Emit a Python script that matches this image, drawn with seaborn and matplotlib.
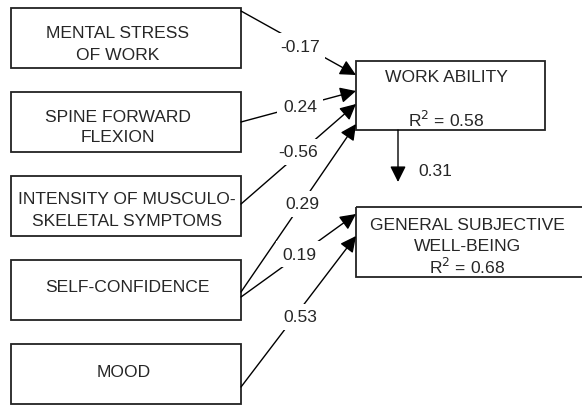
import seaborn as sns
import matplotlib.pyplot as plt
from matplotlib.patches import Rectangle

# predictors (left column) and outcomes (right column)
predictors = ['MENTAL STRESS\nOF WORK', 'SPINE FORWARD\nFLEXION',
              'INTENSITY OF MUSCULO-\nSKELETAL SYMPTOMS', 'SELF-CONFIDENCE', 'MOOD']
outcomes = ['WORK ABILITY', 'GENERAL SUBJECTIVE\nWELL-BEING']
r_squared = [0.58, 0.68]

# paths: (from predictor index, to outcome index, coefficient)
path_from = [0, 1, 2, 3, 3, 4]
path_to = [0, 0, 0, 0, 1, 1]
path_coef = [-0.17, 0.24, -0.56, 0.29, 0.19, 0.53]
wa_to_gswb = 0.31

# layout in pixel coordinates (y down)
left_box_x, left_box_w = 11, 230
left_box_y = [9, 93, 177, 261, 345]
left_box_h = 60
left_text_x = [118, 118, 127, 127, 124]
left_text_y = [[33, 55], [118, 138], [200, 222], [288], [373]]
out_box = [(356, 62, 189, 69), (356, 208, 250, 70)]
path_start_y = [12, 123, 205, 293, 298, 388]
path_end_y = [76, 92, 105, 125, 215, 237]
label_pos = [(300, 47), (300, 108), (298, 153), (302, 205), (299, 255), (300, 318)]

sns.set_theme(style='white')
plt.rcParams['font.family'] = ['Liberation Sans', 'DejaVu Sans']

fig = plt.figure(figsize=(5.82, 4.06), dpi=100)
ax = fig.add_axes([0, 0, 1, 1])
ax.set_xlim(0, 582)
ax.set_ylim(406, 0)
ax.axis('off')

fs = 12.6
for i, name in enumerate(predictors):
    ax.add_patch(Rectangle((left_box_x, left_box_y[i]), left_box_w, left_box_h,
                           fill=False, ec='#222222', lw=1.3))
    for line, ty in zip(name.split('\n'), left_text_y[i]):
        ax.text(left_text_x[i], ty, line, ha='center', va='center', fontsize=fs)

for (bx, by, bw, bh) in out_box:
    ax.add_patch(Rectangle((bx, by), bw, bh, fill=False, ec='#222222', lw=1.3))

ax.text(446, 78, outcomes[0], ha='center', va='center', fontsize=fs)
ax.text(446, 120, f'R$^2$ = {r_squared[0]:.2f}', ha='center', va='center', fontsize=fs)
ax.text(467, 226, outcomes[1].split('\n')[0], ha='center', va='center', fontsize=fs)
ax.text(467, 247, outcomes[1].split('\n')[1], ha='center', va='center', fontsize=fs)
ax.text(467, 267, f'R$^2$ = {r_squared[1]:.2f}', ha='center', va='center', fontsize=fs)

arrow = dict(arrowstyle='-|>', color='black', lw=1.0, mutation_scale=24,
             shrinkA=0, shrinkB=0)
for k in range(len(path_coef)):
    ax.annotate('', xy=(356, path_end_y[k]), xytext=(241, path_start_y[k]),
                arrowprops=arrow)
    ax.text(label_pos[k][0], label_pos[k][1], f'{path_coef[k]:.2f}',
            ha='center', va='center', fontsize=fs,
            bbox=dict(fc='white', ec='none', pad=4))

ax.annotate('', xy=(398, 183), xytext=(398, 131), arrowprops=arrow)
ax.text(435, 172, f'{wa_to_gswb:.2f}', ha='center', va='center', fontsize=fs)

fig.savefig('out.png', dpi=100)
